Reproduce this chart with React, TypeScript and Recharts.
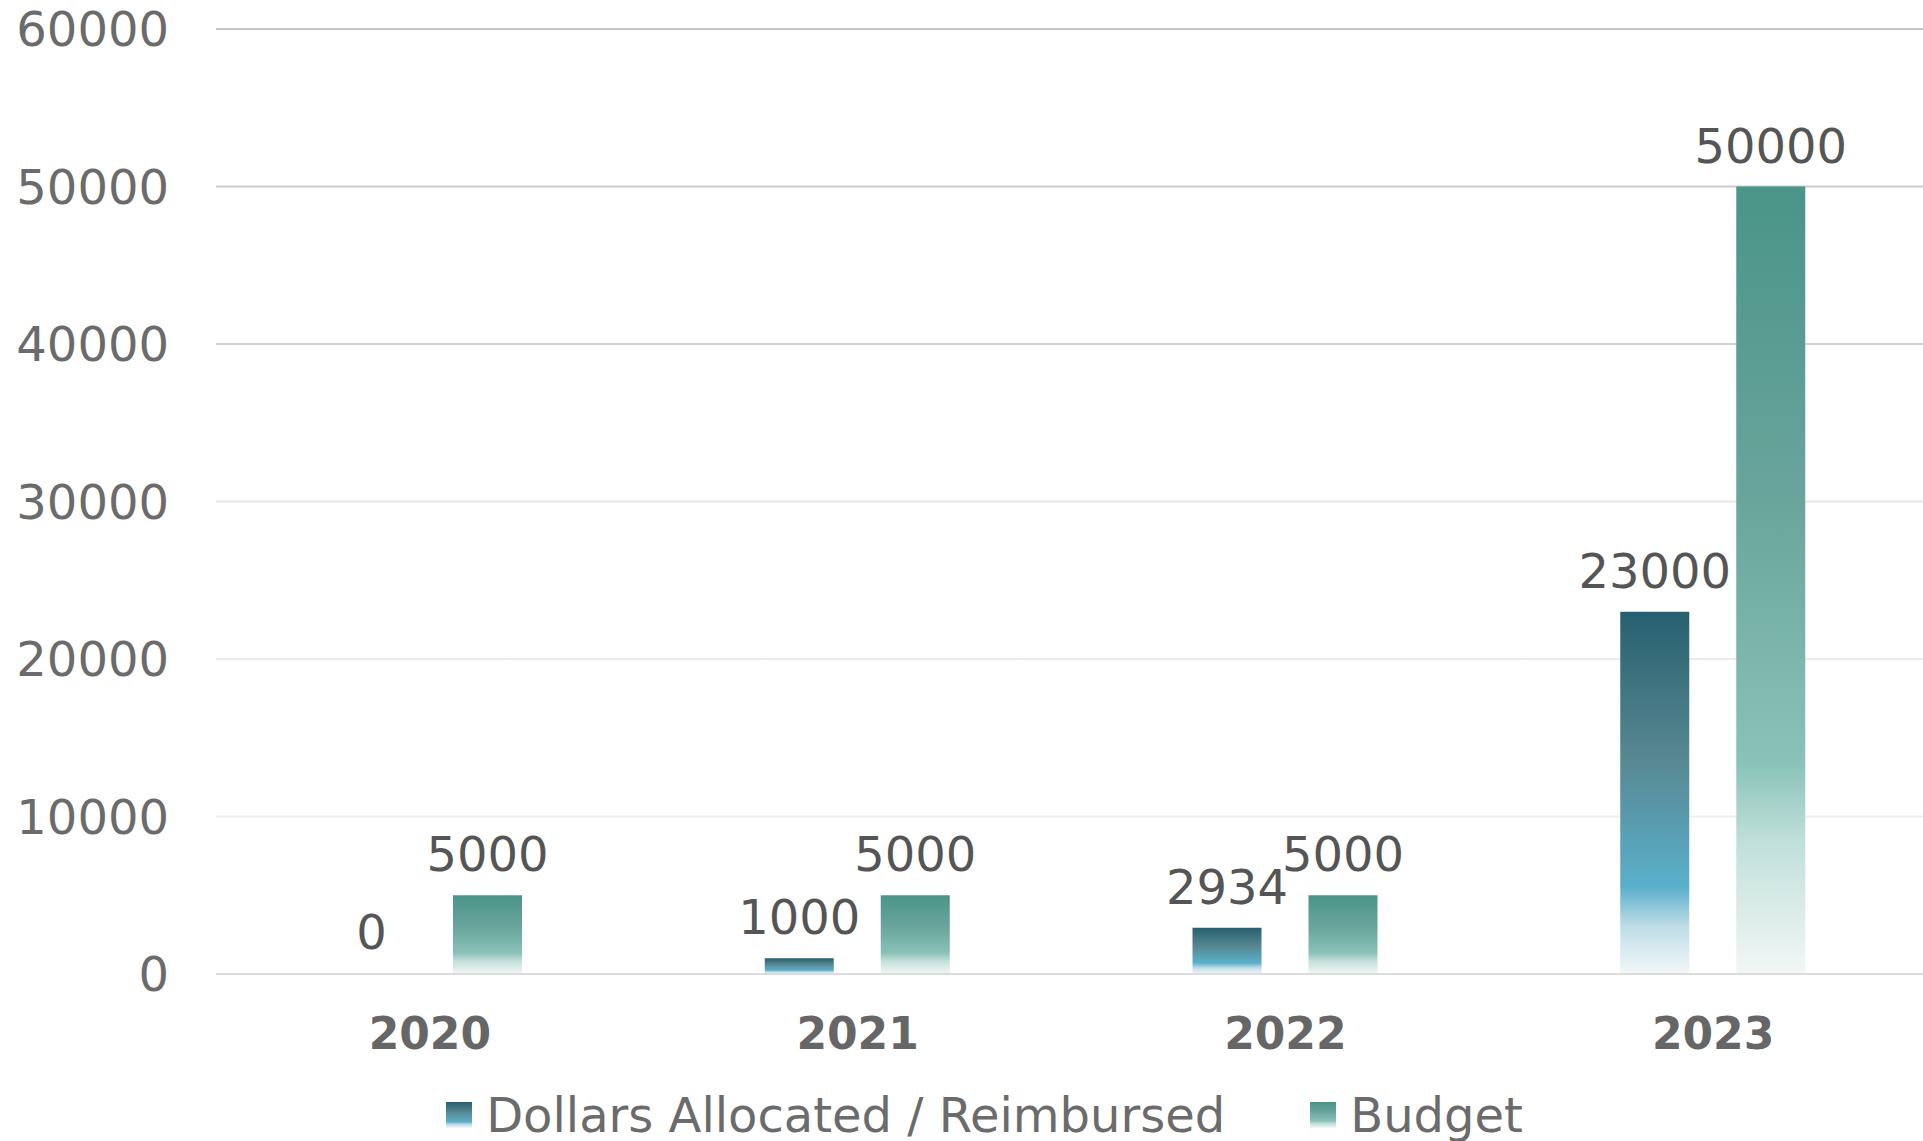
import React from "react";
import {
  BarChart,
  Bar,
  XAxis,
  YAxis,
  CartesianGrid,
  Legend,
  LabelList,
  Cell,
} from "recharts";

const years = ["2020", "2021", "2022", "2023"];
const dollarsAllocated = [0, 1000, 2934, 23000];
const budget = [5000, 5000, 5000, 50000];
const yTicks = [0, 10000, 20000, 30000, 40000, 50000, 60000];

const chartData = years.map((year, i) => ({
  year,
  dollars: dollarsAllocated[i],
  budget: budget[i],
}));

const FONT = "'DejaVu Sans', sans-serif";

const DOLLARS_CSS =
  "linear-gradient(to bottom, #27606f 0%, #588893 41%, #5ab0cb 76%, #c0dde6 87%, #f2f7f9 100%)";
const BUDGET_CSS =
  "linear-gradient(to bottom, #4a9488 0%, #6aa59c 40%, #88c2b8 73%, #c0dfd9 83%, #f3f7f6 100%)";

const legendItems = [
  { label: "Dollars Allocated / Reimbursed", bg: DOLLARS_CSS },
  { label: "Budget", bg: BUDGET_CSS },
];

const LegendContent = () => (
  <div
    style={{
      height: 67,
      boxSizing: "border-box",
      paddingTop: 15,
      paddingLeft: 42,
      display: "flex",
      justifyContent: "center",
      alignItems: "center",
      gap: 85,
      fontFamily: FONT,
      fontSize: 48,
      color: "#6b6b6b",
    }}
  >
    {legendItems.map((item) => (
      <div key={item.label} style={{ display: "flex", alignItems: "center", gap: 14 }}>
        <span style={{ width: 26, height: 26, background: item.bg, display: "inline-block" }} />
        <span style={{ lineHeight: "44px", whiteSpace: "nowrap" }}>{item.label}</span>
      </div>
    ))}
  </div>
);

// value label drawn by hand so that the 0 bar still gets its number
const renderValueLabel = (props: any) => {
  const { x, y, width, height, value } = props;
  const top = Math.min(Number(y), Number(y) + Number(height));
  return (
    <text
      x={Number(x) + Number(width) / 2}
      y={top - 24}
      textAnchor="middle"
      fontFamily={FONT}
      fontSize={48}
      fill="#555555"
    >
      {String(value)}
    </text>
  );
};

export default function App() {
  return (
    <div style={{ position: "absolute", left: 0, top: 0, width: 1923, height: 1141 }}>
      <BarChart
        width={1923}
        height={1141}
        data={chartData}
        margin={{ top: 29, right: -4, bottom: 0, left: 0 }}
        barSize={69}
        barGap={47}
      >
        <defs>
          <linearGradient id="dollarsGrad" x1="0" y1="0" x2="0" y2="1">
            <stop offset="0%" stopColor="#27606f" />
            <stop offset="41%" stopColor="#588893" />
            <stop offset="76%" stopColor="#5ab0cb" />
            <stop offset="87%" stopColor="#c0dde6" />
            <stop offset="100%" stopColor="#f2f7f9" />
          </linearGradient>
          <linearGradient id="budgetGrad" x1="0" y1="0" x2="0" y2="1">
            <stop offset="0%" stopColor="#4a9488" />
            <stop offset="40%" stopColor="#6aa59c" />
            <stop offset="73%" stopColor="#88c2b8" />
            <stop offset="83%" stopColor="#c0dfd9" />
            <stop offset="100%" stopColor="#f3f7f6" />
          </linearGradient>
          <linearGradient id="gridGrad" gradientUnits="userSpaceOnUse" x1="0" y1="29" x2="0" y2="974">
            <stop offset="0%" stopColor="#c6c6c6" />
            <stop offset="34%" stopColor="#d0d0d0" />
            <stop offset="50%" stopColor="#e6e6e6" />
            <stop offset="100%" stopColor="#f3f3f3" />
          </linearGradient>
        </defs>
        <CartesianGrid vertical={false} stroke="url(#gridGrad)" strokeWidth={2} />
        <XAxis
          dataKey="year"
          height={100}
          tickLine={false}
          tickSize={0}
          tickMargin={44}
          axisLine={{ stroke: "#dcdcdc", strokeWidth: 2 }}
          tick={{ fontFamily: FONT, fontSize: 44, fontWeight: "bold", fill: "#666666" }}
        />
        <YAxis
          width={216}
          domain={[0, 60000]}
          ticks={yTicks}
          axisLine={false}
          tickLine={false}
          tickSize={0}
          tickMargin={47}
          tick={{ fontFamily: FONT, fontSize: 48, fill: "#6b6b6b" }}
        />
        <Legend verticalAlign="bottom" height={67} content={<LegendContent />} />
        <Bar
          dataKey="dollars"
          name="Dollars Allocated / Reimbursed"
          fill="url(#dollarsGrad)"
          minPointSize={1}
          isAnimationActive={false}
        >
          {chartData.map((d, i) => (
            <Cell key={`d-${i}`} fill={d.dollars === 0 ? "transparent" : "url(#dollarsGrad)"} />
          ))}
          <LabelList dataKey="dollars" content={renderValueLabel} />
        </Bar>
        <Bar dataKey="budget" name="Budget" fill="url(#budgetGrad)" isAnimationActive={false}>
          <LabelList dataKey="budget" content={renderValueLabel} />
        </Bar>
      </BarChart>
    </div>
  );
}
